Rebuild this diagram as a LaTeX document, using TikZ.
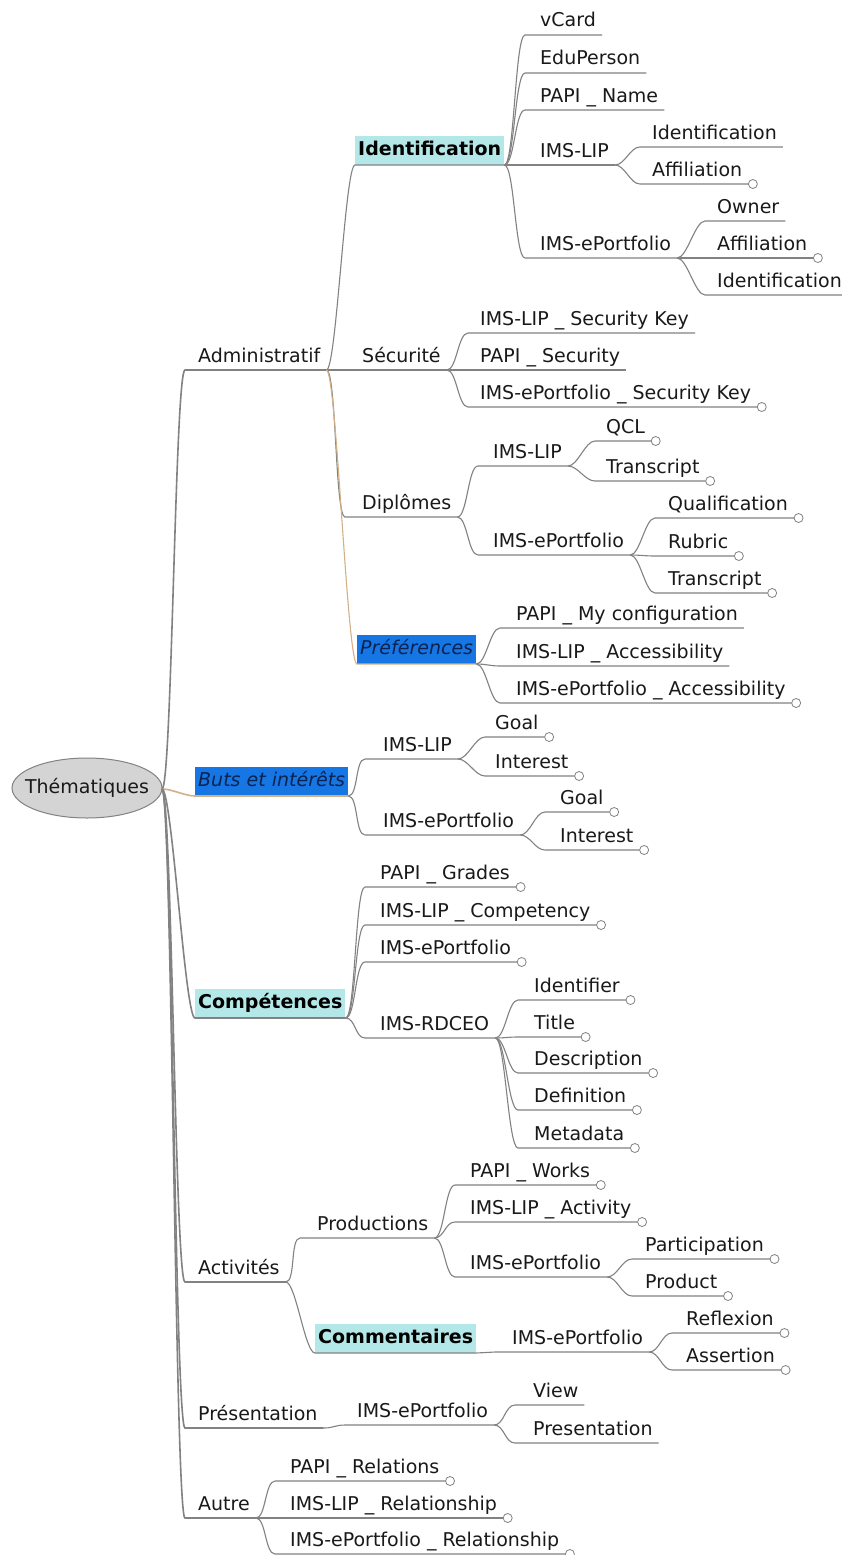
\documentclass[tikz,border=0pt]{standalone}
\usepackage{fontspec}
\usepackage{graphicx}
\setmainfont{DejaVu Sans}
\usetikzlibrary{calc,shapes.geometric}
\definecolor{edgec}{RGB}{130,130,130}
\definecolor{tanc}{RGB}{212,176,135}
\definecolor{txtc}{RGB}{25,25,25}
\definecolor{cyanc}{RGB}{180,232,232}
\definecolor{bluec}{RGB}{22,118,228}
\definecolor{navyc}{RGB}{10,35,80}
\definecolor{rootc}{RGB}{212,212,212}
\tikzset{
  txt/.style={anchor=base west, inner sep=0pt, text=txtc, font=\fontsize{19}{22}\selectfont},
  edge/.style={draw=edgec, line width=1.1pt},
  rootedge/.style={draw=edgec, line width=1.6pt},
  rootedgetan/.style={draw=tanc, line width=1.6pt},
  tanedge/.style={draw=tanc, line width=1.1pt},
  fold/.style={circle, draw=edgec, fill=white, inner sep=0pt, minimum size=9pt, line width=0.8pt},
  boxbase/.style={anchor=south west, inner xsep=3pt, inner ysep=0pt, minimum height=29pt, text height=14pt, text depth=4pt, font=\fontsize{19}{22}\selectfont},
  cbox/.style={boxbase, fill=cyanc, text=black, font=\fontsize{19}{22}\selectfont\bfseries},
  bbox/.style={boxbase, fill=bluec, text=navyc, font=\fontsize{19}{22}\selectfont\itshape},
  rootshape/.style={draw=edgec, fill=rootc, line width=1pt},
  roottext/.style={inner sep=0pt, text=txtc, font=\fontsize{19}{22}\selectfont}
}
% [edge style]{name}{parent}{underline left x}{underline y}{text x}{text}
\newcommand\mmn[7][edge]{%
  \node[txt] (#2) at (#6,#5-8) {#7};
  \coordinate (#2-l) at (#4,#5);
  \coordinate (#2-r) at ($(#2.base east)+(6,8)$);
  \draw[#1] (#3-r) .. controls +(10,0) and +(-10,0) .. (#2-l) -- (#2-r);}
\newcommand\mmc[7][edge]{%
  \mmn[#1]{#2}{#3}{#4}{#5}{#6}{#7}%
  \node[fold] (#2-o) at ($(#2-r)+(4.5,0)$) {};}
% [edge style]{name}{parent}{left x}{bottom y}{box style}{text}
\newcommand\mmb[7][edge]{%
  \node[#6] (#2) at (#4,#5) {#7};
  \coordinate (#2-l) at (#2.south west);
  \coordinate (#2-r) at (#2.south east);
  \draw[#1] (#3-r) .. controls +(10,0) and +(-10,0) .. (#2-l) -- (#2-r);}
\begin{document}
\begin{tikzpicture}[x=1pt,y=-1pt]
\useasboundingbox (0,0) rectangle (841,1555);
\fill[white] (0,0) rectangle (841,1555);
% root
\draw[rootshape] (87,788) ellipse [x radius=75, y radius=30];
\node[roottext] (root) at (87,788) {Thématiques};
\coordinate (root-r) at (162,789);
% level 1
\mmn[rootedge]{adm}{root}{185}{370}{198}{Administratif}
\mmb[rootedgetan]{buts}{root}{195}{796}{bbox}{Buts et intérêts}
\mmb[rootedge]{comp}{root}{195}{1018}{cbox}{Compétences}
\mmn[rootedge]{act}{root}{185}{1282}{198}{Activités}
\mmn[rootedge]{pres}{root}{185}{1428}{198}{Présentation}
\mmn[rootedge]{autre}{root}{185}{1518}{198}{Autre}
% Administratif
\mmb{ident}{adm}{355}{165}{cbox}{Identification}
\mmn{secu}{adm}{345}{370}{362}{Sécurité}
\mmn{dipl}{adm}{345}{517}{362}{Diplômes}
\mmb[tanedge]{pref}{adm}{357}{664}{bbox}{Préférences}
% Identification
\mmn{vcard}{ident}{525}{35}{540}{vCard}
\mmn{edu}{ident}{525}{73}{540}{EduPerson}
\mmn{papiname}{ident}{525}{110}{540}{PAPI \_ Name}
\mmn{idlip}{ident}{525}{165}{540}{IMS-LIP}
\mmn{idep}{ident}{525}{258}{540}{IMS-ePortfolio}
\mmn{idlipid}{idlip}{640}{147}{652}{Identification}
\mmc{idlipaff}{idlip}{640}{184}{652}{Affiliation}
\mmn{idepown}{idep}{705}{221}{717}{Owner}
\mmc{idepaff}{idep}{705}{258}{717}{Affiliation}
\mmn{idepid}{idep}{705}{295}{717}{Identification}
% Securite
\mmn{seclip}{secu}{468}{333}{480}{IMS-LIP \_ Security Key}
\mmn{secpapi}{secu}{468}{370}{480}{PAPI \_ Security}
\mmc{secep}{secu}{468}{407}{480}{IMS-ePortfolio \_ Security Key}
% Diplomes
\mmn{diplip}{dipl}{478}{466}{493}{IMS-LIP}
\mmn{dipep}{dipl}{478}{555}{493}{IMS-ePortfolio}
\mmc{qcl}{diplip}{595}{441}{606}{QCL}
\mmc{diptra}{diplip}{595}{481}{606}{Transcript}
\mmc{qualif}{dipep}{655}{518}{668}{Qualification}
\mmc{rubric}{dipep}{655}{556}{668}{Rubric}
\mmc{diptrb}{dipep}{655}{593}{668}{Transcript}
% Preferences
\mmn{papiconf}{pref}{500}{628}{516}{PAPI \_ My configuration}
\mmn{lipacc}{pref}{500}{666}{516}{IMS-LIP \_ Accessibility}
\mmc{epacc}{pref}{500}{703}{516}{IMS-ePortfolio \_ Accessibility}
% Buts et interets
\mmn{butlip}{buts}{365}{759}{383}{IMS-LIP}
\mmn{butep}{buts}{365}{835}{383}{IMS-ePortfolio}
\mmc{goala}{butlip}{485}{737}{495}{Goal}
\mmc{intera}{butlip}{485}{776}{495}{Interest}
\mmc{goalb}{butep}{545}{812}{560}{Goal}
\mmc{interb}{butep}{545}{850}{560}{Interest}
% Competences
\mmc{grades}{comp}{365}{887}{380}{PAPI \_ Grades}
\mmc{lipcomp}{comp}{365}{925}{380}{IMS-LIP \_ Competency}
\mmc{compep}{comp}{365}{962}{380}{IMS-ePortfolio}
\mmn{rdceo}{comp}{365}{1038}{380}{IMS-RDCEO}
\mmc{identif}{rdceo}{518}{1000}{534}{Identifier}
\mmc{rtitle}{rdceo}{518}{1037}{534}{Title}
\mmc{rdesc}{rdceo}{518}{1073}{534}{Description}
\mmc{rdefi}{rdceo}{518}{1110}{534}{Definition}
\mmc{rmeta}{rdceo}{518}{1148}{534}{Metadata}
% Activites
\mmn{prod}{act}{300}{1238}{317}{Productions}
\mmb{comm}{act}{315}{1353}{cbox}{Commentaires}
\mmc{works}{prod}{455}{1185}{470}{PAPI \_ Works}
\mmc{lipact}{prod}{455}{1222}{470}{IMS-LIP \_ Activity}
\mmn{prodep}{prod}{455}{1277}{470}{IMS-ePortfolio}
\mmc{partic}{prodep}{632}{1259}{645}{Participation}
\mmc{product}{prodep}{632}{1296}{645}{Product}
\mmn{commep}{comm}{495}{1352}{512}{IMS-ePortfolio}
\mmc{reflex}{commep}{672}{1333}{686}{Reflexion}
\mmc{assert}{commep}{672}{1370}{686}{Assertion}
% Presentation
\mmn{presep}{pres}{345}{1425}{357}{IMS-ePortfolio}
\mmn{view}{presep}{515}{1405}{533}{View}
\mmn{presn}{presep}{515}{1443}{533}{Presentation}
% Autre
\mmc{prel}{autre}{275}{1481}{290}{PAPI \_ Relations}
\mmc{liprel}{autre}{275}{1518}{290}{IMS-LIP \_ Relationship}
\mmc{eprel}{autre}{275}{1554}{290}{IMS-ePortfolio \_ Relationship}
\end{tikzpicture}
\end{document}
